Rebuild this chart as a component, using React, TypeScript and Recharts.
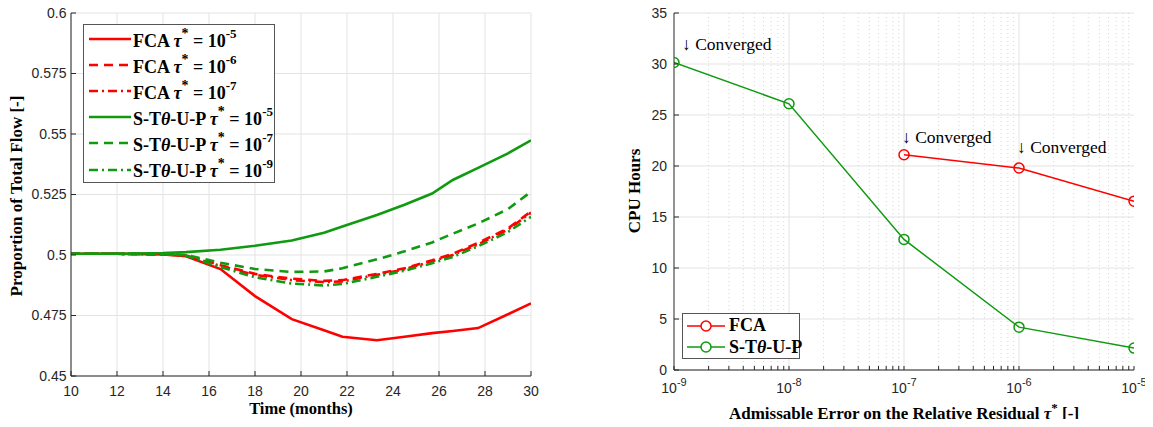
import React from "react";
import {
  LineChart,
  Line,
  XAxis,
  YAxis,
  CartesianGrid,
  ReferenceLine,
  ReferenceDot,
  Legend,
} from "recharts";

// Left panel: proportion of total flow vs time
const months = [10, 12, 14, 15, 16.5, 18, 19.6, 21, 21.8, 23.3, 24.5, 25.7, 26.6, 27.7, 29, 30];
const fcaTau5 = [0.5005, 0.5005, 0.5002, 0.4995, 0.4942, 0.483, 0.4735, 0.4689, 0.4662, 0.4648, 0.4662, 0.4677, 0.4686, 0.4698, 0.4755, 0.48];
const fcaTau6 = [0.5005, 0.5005, 0.5003, 0.4998, 0.4958, 0.4922, 0.4902, 0.4893, 0.4896, 0.4922, 0.4945, 0.4978, 0.5005, 0.505, 0.511, 0.518];
const fcaTau7 = [0.5005, 0.5005, 0.5003, 0.4998, 0.4955, 0.4918, 0.4896, 0.4888, 0.4891, 0.4918, 0.4941, 0.4974, 0.5, 0.5044, 0.5105, 0.5175];
const stupTau5 = [0.5005, 0.5005, 0.5008, 0.5012, 0.5022, 0.5038, 0.506, 0.5092, 0.5118, 0.5165, 0.5208, 0.5254, 0.531, 0.536, 0.542, 0.5474];
const stupTau7 = [0.5005, 0.5005, 0.5004, 0.5, 0.4968, 0.4942, 0.493, 0.4932, 0.4945, 0.4982, 0.5015, 0.5052, 0.5088, 0.513, 0.519, 0.5261];
const stupTau9 = [0.5005, 0.5005, 0.5003, 0.4997, 0.495, 0.4908, 0.4882, 0.4874, 0.488, 0.491, 0.4935, 0.4966, 0.4992, 0.5036, 0.5095, 0.5158];
const monthTicks = [10, 12, 14, 16, 18, 20, 22, 24, 26, 28, 30];
const flowTicks = [0.45, 0.475, 0.5, 0.525, 0.55, 0.575, 0.6];

// Right panel: CPU hours vs admissible residual
const fcaTolerance = [1e-7, 1e-6, 1e-5];
const fcaHours = [21.1, 19.8, 16.55];
const stupTolerance = [1e-9, 1e-8, 1e-7, 1e-6, 1e-5];
const stupHours = [30.15, 26.1, 12.8, 4.2, 2.15];
const decadeTicks = [1e-9, 1e-8, 1e-7, 1e-6, 1e-5];
const hourTicks = [0, 5, 10, 15, 20, 25, 30, 35];
const convergedNotes = [
  { x: 1e-9, y: 30.15, dx: 8, dy: -12 },
  { x: 1e-7, y: 21.1, dx: -2, dy: -12 },
  { x: 1e-6, y: 19.8, dx: -2, dy: -15 },
];

const RED = "#ff0000";
const GREEN = "#109a10";
const AXIS = "#262626";
const GRID = "#e3e3e3";
const SANS = "'Liberation Sans', Arial, Helvetica, sans-serif";
const SERIF = "'Liberation Serif', 'Times New Roman', serif";

const flowRows = months.map((t, i) => ({
  t,
  fca5: fcaTau5[i],
  fca6: fcaTau6[i],
  fca7: fcaTau7[i],
  stup5: stupTau5[i],
  stup7: stupTau7[i],
  stup9: stupTau9[i],
}));
const fcaRows = fcaTolerance.map((x, i) => ({ x, y: fcaHours[i] }));
const stupRows = stupTolerance.map((x, i) => ({ x, y: stupHours[i] }));

// minor log ticks 2..9 x 10^n
const minorTicks: number[] = [];
for (let e = -9; e < -5; e++) {
  for (let m = 2; m <= 9; m++) minorTicks.push(m * Math.pow(10, e));
}

const DASH = "9 6";
const DASHDOT = "9 4 2 4";

const flowSeries = [
  { key: "fca5", method: "FCA", exp: "-5", color: RED, dash: undefined },
  { key: "fca6", method: "FCA", exp: "-6", color: RED, dash: DASH },
  { key: "fca7", method: "FCA", exp: "-7", color: RED, dash: DASHDOT },
  { key: "stup5", method: "STUP", exp: "-5", color: GREEN, dash: undefined },
  { key: "stup7", method: "STUP", exp: "-7", color: GREEN, dash: DASH },
  { key: "stup9", method: "STUP", exp: "-9", color: GREEN, dash: DASHDOT },
];

const sup = (s: string, size = 11, lift = -7) => (
  <span style={{ fontSize: size, position: "relative", top: lift, lineHeight: 0 }}>{s}</span>
);

const MethodName = ({ method }: { method: string }) =>
  method === "FCA" ? (
    <>FCA</>
  ) : (
    <>
      S-T<i>θ</i>-U-P
    </>
  );

const FlowLegend = () => (
  <div
    style={{
      border: "1px solid #555",
      background: "#fff",
      width: 192,
      height: 159,
      boxSizing: "border-box",
      padding: "1px 0 0 4px",
      fontFamily: SERIF,
      fontWeight: 700,
      fontSize: 18,
      color: "#000",
    }}
  >
    {flowSeries.map((s) => (
      <div key={s.key} style={{ display: "flex", alignItems: "center", height: 26.1, whiteSpace: "nowrap" }}>
        <svg width={44} height={10} style={{ flex: "none" }}>
          <line x1={1} x2={43} y1={5} y2={5} stroke={s.color} strokeWidth={2.5} strokeDasharray={s.dash} />
        </svg>
        <span style={{ marginLeft: 1, position: "relative", top: 2 }}>
          <MethodName method={s.method} /> <i>τ</i>
          {sup("*", 14, -9)} = 10{sup(s.exp, 13, -9)}
        </span>
      </div>
    ))}
  </div>
);

const HoursLegend = () => (
  <div
    style={{
      border: "1px solid #555",
      background: "#fff",
      width: 118,
      height: 46,
      boxSizing: "border-box",
      padding: "1px 0 0 3px",
      fontFamily: SERIF,
      fontWeight: 700,
      fontSize: 18,
      color: "#000",
    }}
  >
    {[
      { label: "FCA", color: RED },
      { label: "STUP", color: GREEN },
    ].map((s) => (
      <div key={s.label} style={{ display: "flex", alignItems: "center", height: 21.5, whiteSpace: "nowrap" }}>
        <svg width={40} height={12} style={{ flex: "none" }}>
          <line x1={1} x2={39} y1={6} y2={6} stroke={s.color} strokeWidth={1.5} />
          <circle cx={20} cy={6} r={5} fill="#fff" stroke={s.color} strokeWidth={1.5} />
        </svg>
        <span style={{ marginLeft: 3 }}>
          <MethodName method={s.label} />
        </span>
      </div>
    ))}
  </div>
);

const PowerTick = (props: any) => {
  const { x, y, payload } = props;
  if (!decadeTicks.includes(payload.value)) return <g />;
  const exp = Math.round(Math.log10(payload.value));
  return (
    <text x={x} y={y + 15} textAnchor="middle" fill={AXIS} fontSize={14} fontFamily={SANS}>
      <tspan>10</tspan>
      <tspan dy={-7} fontSize={11}>
        {exp}
      </tspan>
    </text>
  );
};

const NoTick = () => <g />;

const ConvergedLabel = (dx: number, dy: number) => (props: any) => {
  const { viewBox } = props;
  return (
    <text x={viewBox.x + dx} y={viewBox.y + dy} fill="#000" fontSize={17.5} fontFamily={SERIF}>
      ↓ Converged
    </text>
  );
};

const tickStyle = { fill: AXIS, fontSize: 14, fontFamily: SANS };

export default function App() {
  return (
    <div style={{ position: "relative", width: 1153, height: 427, margin: -8, background: "#fff" }}>
      <div style={{ position: "absolute", left: 0, top: 0 }}>
        <LineChart width={560} height={427} data={flowRows} margin={{ top: 13, right: 29, bottom: 0, left: 0 }}>
          <CartesianGrid stroke={GRID} strokeWidth={1} />
          <XAxis
            dataKey="t"
            type="number"
            domain={[10, 30]}
            ticks={monthTicks}
            interval={0}
            allowDataOverflow
            height={51}
            stroke={AXIS}
            tickSize={-5}
            tickMargin={15}
            tick={tickStyle}
          />
          <XAxis
            xAxisId="top"
            orientation="top"
            dataKey="t"
            type="number"
            domain={[10, 30]}
            ticks={monthTicks}
            interval={0}
            height={0}
            stroke={AXIS}
            tickSize={-5}
            tick={NoTick}
          />
          <YAxis
            type="number"
            domain={[0.45, 0.6]}
            ticks={flowTicks}
            interval={0}
            allowDataOverflow
            width={71}
            stroke={AXIS}
            tickSize={-5}
            tickMargin={9.5}
            tick={tickStyle}
            tickFormatter={(v: number) => String(+v.toFixed(3))}
          />
          <YAxis
            yAxisId="right"
            orientation="right"
            type="number"
            domain={[0.45, 0.6]}
            ticks={flowTicks}
            interval={0}
            width={0}
            stroke={AXIS}
            tickSize={-5}
            tick={NoTick}
          />
          {flowSeries.map((s) => (
            <Line
              key={s.key}
              dataKey={s.key}
              type="linear"
              stroke={s.color}
              strokeWidth={2.6}
              strokeDasharray={s.dash}
              dot={false}
              isAnimationActive={false}
            />
          ))}
          <Legend
            layout="vertical"
            align="center"
            verticalAlign="middle"
            content={FlowLegend}
            wrapperStyle={{ left: 83, top: 24, width: 192, height: 159 }}
          />
          <text x={301} y={414} textAnchor="middle" fontFamily={SERIF} fontWeight={700} fontSize={16.5} fill="#000">
            Time (months)
          </text>
          <text
            x={22}
            y={196}
            textAnchor="middle"
            transform="rotate(-90 22 196)"
            fontFamily={SERIF}
            fontWeight={700}
            fontSize={17}
            fill="#000"
          >
            Proportion of Total Flow [-]
          </text>
        </LineChart>
      </div>

      <div style={{ position: "absolute", left: 580, top: 0 }}>
        <LineChart width={573} height={427} margin={{ top: 13, right: 19, bottom: 0, left: 0 }}>
          <CartesianGrid stroke={GRID} vertical={false} />
          {minorTicks.map((v) => (
            <ReferenceLine key={v} x={v} stroke="#d6d6d6" strokeDasharray="1 3" />
          ))}
          {decadeTicks.slice(1, -1).map((v) => (
            <ReferenceLine key={v} x={v} stroke={GRID} />
          ))}
          <XAxis
            dataKey="x"
            type="number"
            scale="log"
            domain={[1e-9, 1e-5]}
            ticks={[...decadeTicks, ...minorTicks]}
            interval={0}
            allowDataOverflow
            height={57}
            stroke={AXIS}
            tickSize={-4}
            tickMargin={12}
            tick={PowerTick}
          />
          <XAxis
            xAxisId="top"
            orientation="top"
            dataKey="x"
            type="number"
            scale="log"
            domain={[1e-9, 1e-5]}
            ticks={[...decadeTicks, ...minorTicks]}
            interval={0}
            allowDataOverflow
            height={0}
            stroke={AXIS}
            tickSize={-4}
            tick={NoTick}
          />
          <YAxis
            type="number"
            domain={[0, 35]}
            ticks={hourTicks}
            interval={0}
            allowDataOverflow
            width={94}
            stroke={AXIS}
            tickSize={-5}
            tickMargin={12}
            tick={tickStyle}
          />
          <YAxis
            yAxisId="right"
            orientation="right"
            type="number"
            domain={[0, 35]}
            ticks={hourTicks}
            interval={0}
            width={0}
            stroke={AXIS}
            tickSize={-5}
            tick={NoTick}
          />
          <Line
            data={fcaRows}
            dataKey="y"
            type="linear"
            stroke={RED}
            strokeWidth={1.5}
            dot={{ r: 5, fill: "none", stroke: RED, strokeWidth: 1.5 }}
            isAnimationActive={false}
          />
          <Line
            data={stupRows}
            dataKey="y"
            type="linear"
            stroke={GREEN}
            strokeWidth={1.5}
            dot={{ r: 5, fill: "none", stroke: GREEN, strokeWidth: 1.5 }}
            isAnimationActive={false}
          />
          {convergedNotes.map((n) => (
            <ReferenceDot
              key={n.x}
              x={n.x}
              y={n.y}
              r={0}
              stroke="none"
              fill="none"
              label={ConvergedLabel(n.dx, n.dy)}
            />
          ))}
          <Legend
            layout="vertical"
            align="center"
            verticalAlign="middle"
            content={HoursLegend}
            wrapperStyle={{ left: 102, top: 313, width: 118, height: 46 }}
          />
          <text x={324} y={419} textAnchor="middle" fontFamily={SERIF} fontWeight={700} fontSize={17} fill="#000">
            Admissable Error on the Relative Residual <tspan fontStyle="italic">τ</tspan>
            <tspan dy={-7} fontSize={13}>*</tspan>
            <tspan dy={7}> [-]</tspan>
          </text>
          <text
            x={60}
            y={191}
            textAnchor="middle"
            transform="rotate(-90 60 191)"
            fontFamily={SERIF}
            fontWeight={700}
            fontSize={17}
            fill="#000"
          >
            CPU Hours
          </text>
        </LineChart>
      </div>
    </div>
  );
}
